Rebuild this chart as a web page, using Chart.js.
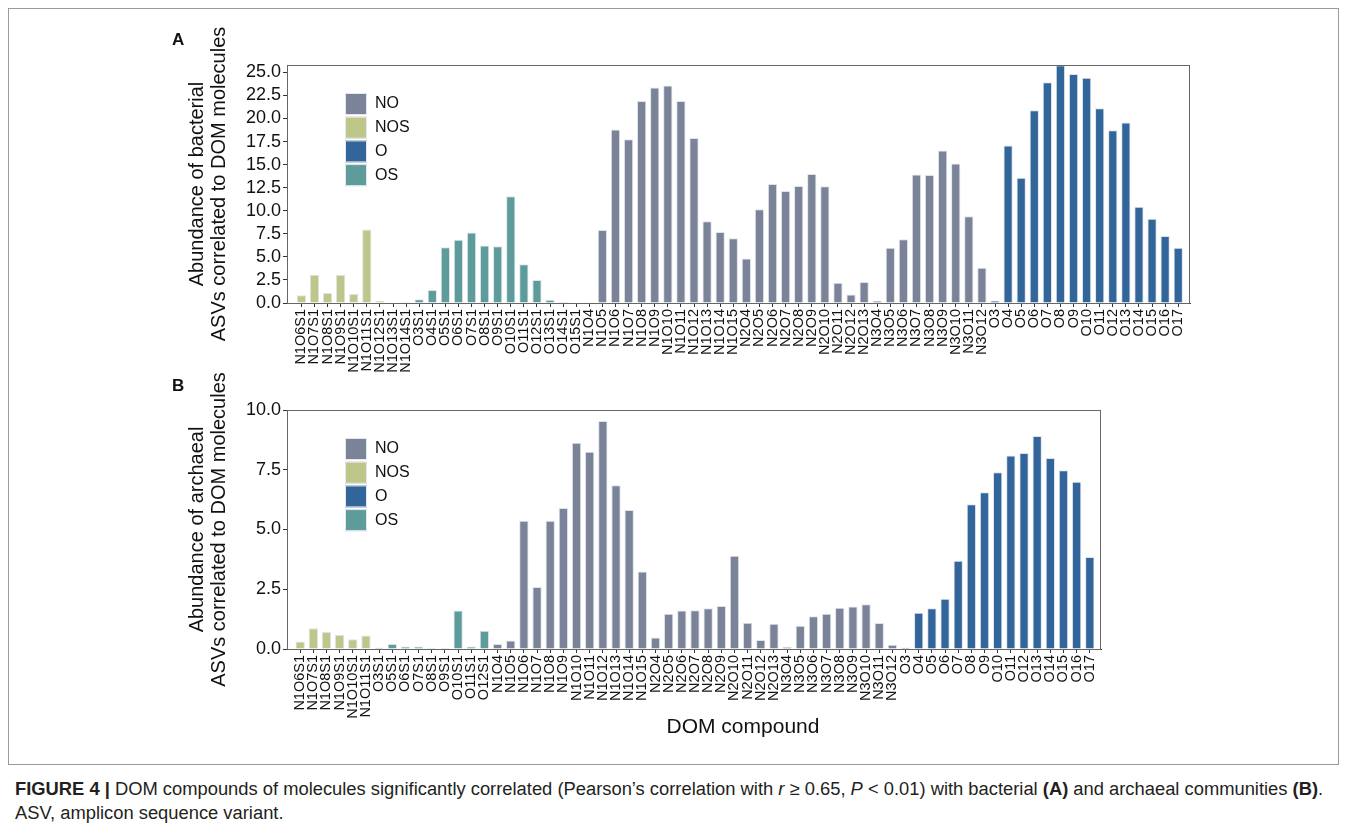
<!DOCTYPE html>
<html lang="en">
<head>
<meta charset="utf-8">
<title>DOM compounds</title>
<script src="https://cdn.jsdelivr.net/npm/chart.js@4.4.1/dist/chart.umd.min.js"></script>
<style>
  html, body { margin: 0; padding: 0; background: #fff; }
  body { width: 1347px; height: 833px; position: relative; overflow: hidden; font-family: "Liberation Sans", Arial, sans-serif; color: #231f20; }
  .remelis { position: absolute; left: 8px; top: 8px; width: 1331px; height: 757px; border: 1px solid #9a9a9a; box-sizing: border-box; }
  .raide { position: absolute; font-weight: bold; font-size: 17px; color: #111; }
  .drobe { position: absolute; }
  #asis { position: absolute; left: 593px; width: 300px; top: 714px; text-align: center; font-size: 21px; color: #111; }
  #antraste { position: absolute; left: 15px; top: 777px; font-size: 18.35px; line-height: 24px; white-space: nowrap; }
</style>
</head>
<body>
<div class="remelis"></div>
<div class="drobe" style="left:170px; top:20px;"><canvas id="diagramaA" width="1030" height="365"></canvas></div>
<div class="drobe" style="left:170px; top:360px;"><canvas id="diagramaB" width="940" height="385"></canvas></div>
<div class="raide" style="left:172px; top:30px;">A</div>
<div class="raide" style="left:172px; top:376px;">B</div>
<div id="asis">DOM compound</div>
<div id="antraste"><b>FIGURE 4 |</b> DOM compounds of molecules significantly correlated (Pearson’s correlation with <i>r</i> ≥ 0.65, <i>P</i> &lt; 0.01) with bacterial <b>(A)</b> and archaeal communities <b>(B)</b>.<br>ASV, amplicon sequence variant.</div>

<script>
// Spalvos pagal junginiu grupes
const grupes = ['NO', 'NOS', 'O', 'OS'];
const spalvos = { NO: '#7a8398', NOS: '#bfc68a', O: '#32659a', OS: '#5e9c9c' };

// Bendros NO kategorijos (abiem diagramom tos pacios)
const kategorijosNO = [
  'N1O4', 'N1O5', 'N1O6', 'N1O7', 'N1O8', 'N1O9', 'N1O10', 'N1O11', 'N1O12', 'N1O13', 'N1O14', 'N1O15',
  'N2O4', 'N2O5', 'N2O6', 'N2O7', 'N2O8', 'N2O9', 'N2O10', 'N2O11', 'N2O12', 'N2O13',
  'N3O4', 'N3O5', 'N3O6', 'N3O7', 'N3O8', 'N3O9', 'N3O10', 'N3O11', 'N3O12'
];
const kategorijosO = ['O3', 'O4', 'O5', 'O6', 'O7', 'O8', 'O9', 'O10', 'O11', 'O12', 'O13', 'O14', 'O15', 'O16', 'O17'];

// A - bakterijos
const kategorijosA = [
  'N1O6S1', 'N1O7S1', 'N1O8S1', 'N1O9S1', 'N1O10S1', 'N1O11S1', 'N1O12S1', 'N1O13S1', 'N1O14S1',
  'O3S1', 'O4S1', 'O5S1', 'O6S1', 'O7S1', 'O8S1', 'O9S1', 'O10S1', 'O11S1', 'O12S1', 'O13S1', 'O14S1', 'O15S1',
  ...kategorijosNO, ...kategorijosO
];
const reiksmesA = [
  0.83, 3.06, 1.08, 3.03, 0.97, 7.96, 0.25, 0.07, 0.1,
  0.4, 1.4, 6.05, 6.85, 7.64, 6.23, 6.16, 11.57, 4.2, 2.49, 0.36, 0.1, 0.05,
  0.02, 7.92, 18.8, 17.76, 21.9, 23.35, 23.57, 21.9, 17.9, 8.86, 7.71, 7.03,
  4.83, 10.16, 12.9, 12.14, 12.68, 13.98, 12.65, 2.19, 0.93, 2.27,
  0.25, 5.98, 6.9, 13.94, 13.87, 16.54, 15.13, 9.4, 3.82,
  0.25, 17.08, 13.58, 20.9, 23.92, 25.76, 24.82, 24.43, 21.1, 18.73, 19.56, 10.44, 9.14, 7.27, 5.98
];

// B - archejos
const kategorijosB = [
  'N1O6S1', 'N1O7S1', 'N1O8S1', 'N1O9S1', 'N1O10S1', 'N1O11S1',
  'O3S1', 'O5S1', 'O6S1', 'O7S1', 'O8S1', 'O9S1', 'O10S1', 'O11S1', 'O12S1',
  ...kategorijosNO, ...kategorijosO
];
const reiksmesB = [
  0.31, 0.87, 0.71, 0.59, 0.41, 0.56,
  0.06, 0.21, 0.1, 0.1, 0.05, 0.05, 1.61, 0.1, 0.76,
  0.21, 0.36, 5.37, 2.59, 5.37, 5.9, 8.63, 8.25, 9.54, 6.85, 5.82, 3.24,
  0.48, 1.47, 1.61, 1.62, 1.71, 1.8, 3.9, 1.1, 0.38, 1.06,
  0.08, 0.97, 1.37, 1.48, 1.73, 1.78, 1.87, 1.09, 0.18,
  0.06, 1.52, 1.71, 2.1, 3.69, 6.06, 6.56, 7.4, 8.1, 8.2, 8.91, 7.99, 7.48, 7.0, 3.85
];

Chart.defaults.font.family = '"Liberation Sans", Arial, sans-serif';
Chart.defaults.color = '#111';

// Grupe nustatoma is pavadinimo
function grupe(pavadinimas) {
  const turiN = pavadinimas.startsWith('N');
  const turiS = pavadinimas.includes('S');
  if (turiN && turiS) return 'NOS';
  if (turiN) return 'NO';
  if (turiS) return 'OS';
  return 'O';
}

// Remelis aplink braizymo sriti
const remelisPlugin = {
  id: 'remelis',
  afterDraw(chart) {
    const { ctx, chartArea } = chart;
    ctx.save();
    ctx.strokeStyle = '#666';
    ctx.lineWidth = 1;
    ctx.strokeRect(Math.round(chartArea.left) + 0.5, Math.round(chartArea.top) + 0.5,
      Math.round(chartArea.right - chartArea.left) - 1, Math.round(chartArea.bottom - chartArea.top));
    ctx.restore();
  }
};

// Legenda diagramos viduje, virsuje kaireje
const legendaPlugin = {
  id: 'legenda',
  afterDraw(chart) {
    const { ctx, chartArea } = chart;
    ctx.save();
    ctx.font = '16px "Liberation Sans", Arial, sans-serif';
    ctx.textBaseline = 'middle';
    grupes.forEach((g, i) => {
      const x = chartArea.left + 58;
      const y = chartArea.top + 28 + i * 23.7;
      ctx.fillStyle = spalvos[g];
      ctx.fillRect(x, y, 22, 22);
      ctx.strokeStyle = '#e4e8ee';
      ctx.strokeRect(x + 0.5, y + 0.5, 21, 21);
      ctx.fillStyle = '#111';
      ctx.fillText(g, x + 30, y + 11);
    });
    ctx.restore();
  }
};

function sukurtiDiagrama(id, kategorijos, reiksmes, nustatymai) {
  const ctx = document.getElementById(id).getContext('2d');
  const asiesLinija = { display: true, drawOnChartArea: false, drawTicks: true, tickLength: 4, color: '#333', offset: false };
  return new Chart(ctx, {
    type: 'bar',
    data: {
      datasets: [{
        data: reiksmes.map((v, i) => ({ x: i, y: v })),
        backgroundColor: kategorijos.map(k => spalvos[grupe(k)]),
        borderColor: '#dde3ea',
        borderWidth: 1,
        barPercentage: 0.71,
        categoryPercentage: 1
      }]
    },
    options: {
      responsive: false,
      animation: false,
      devicePixelRatio: 1,
      events: [],
      layout: { padding: nustatymai.padding },
      plugins: { legend: { display: false }, tooltip: { enabled: false } },
      scales: {
        x: {
          type: 'linear',
          min: nustatymai.xMin,
          max: nustatymai.xMax,
          offset: false,
          grid: asiesLinija,
          border: { display: true, color: '#333', width: 1 },
          afterBuildTicks: (asis) => { asis.ticks = kategorijos.map((_, i) => ({ value: i })); },
          afterFit: (asis) => { asis.height = nustatymai.xAukstis; },
          ticks: {
            autoSkip: false,
            minRotation: 90,
            maxRotation: 90,
            padding: 2,
            font: { size: 14.5 },
            callback: (v) => kategorijos[v] ?? ''
          }
        },
        y: {
          min: 0,
          max: nustatymai.yMax,
          grid: asiesLinija,
          border: { display: true, color: '#333', width: 1 },
          afterFit: (asis) => { asis.width = 117; },
          ticks: {
            stepSize: 2.5,
            autoSkip: false,
            includeBounds: false,
            padding: 2,
            font: { size: 18 },
            callback: (v) => v.toFixed(1)
          },
          title: {
            display: true,
            text: nustatymai.pavadinimas,
            font: { size: 20, lineHeight: 1.1 },
            padding: { top: 16, bottom: 0 }
          }
        }
      }
    },
    plugins: [remelisPlugin, legendaPlugin]
  });
}

sukurtiDiagrama('diagramaA', kategorijosA, reiksmesA, {
  xMin: -1.1, xMax: 67.9, yMax: 25.8, xAukstis: 82,
  padding: { top: 45, right: 10, bottom: 0, left: 0 },
  pavadinimas: ['Abundance of bacterial', 'ASVs correlated to DOM molecules']
});

sukurtiDiagrama('diagramaB', kategorijosB, reiksmesB, {
  xMin: -1.0, xMax: 60.85, yMax: 10, xAukstis: 96,
  padding: { top: 50, right: 9, bottom: 0, left: 0 },
  pavadinimas: ['Abundance of archaeal', 'ASVs correlated to DOM molecules']
});
</script>
</body>
</html>
